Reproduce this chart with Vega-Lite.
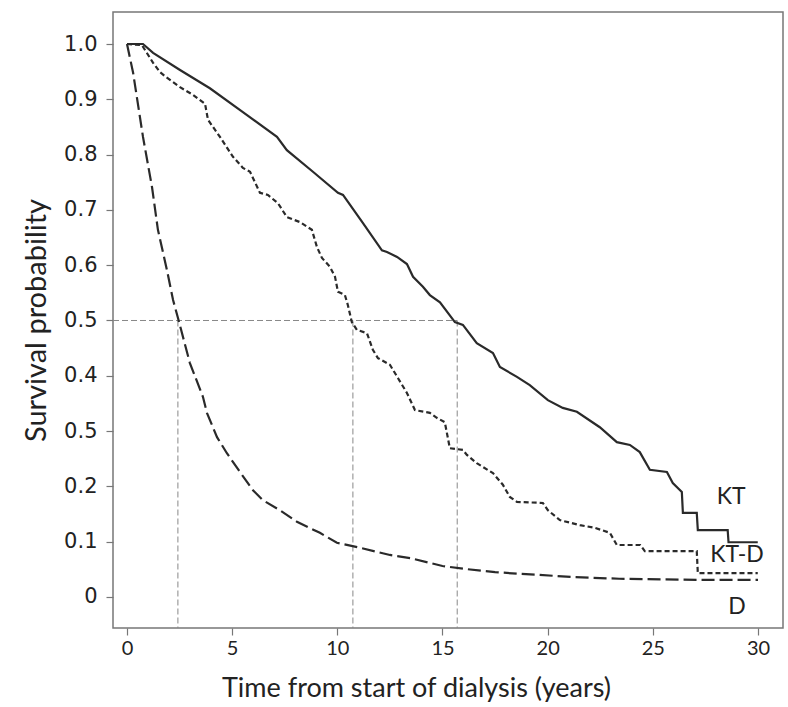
{
  "$schema": "https://vega.github.io/schema/vega-lite/v6.json",
  "autosize": "none",
  "width": 670,
  "height": 616,
  "padding": {"left": 113, "top": 12, "right": 5, "bottom": 79},
  "background": "white",
  "config": {
    "view": {"stroke": "#777", "strokeWidth": 1.5},
    "axis": {"grid": false, "domain": false, "tickColor": "#777", "tickWidth": 1.2, "labelColor": "#222", "titleColor": "#222", "titleFontWeight": "normal"}
  },
  "datasets": {
    "curves": [
      {"series": "KT", "t": 0, "s": 1.0},
      {"series": "KT", "t": 0.76, "s": 1.0},
      {"series": "KT", "t": 1.24, "s": 0.984},
      {"series": "KT", "t": 2.52, "s": 0.953},
      {"series": "KT", "t": 3.94, "s": 0.92},
      {"series": "KT", "t": 5.51, "s": 0.877},
      {"series": "KT", "t": 7.13, "s": 0.832},
      {"series": "KT", "t": 7.6, "s": 0.808},
      {"series": "KT", "t": 8.84, "s": 0.769},
      {"series": "KT", "t": 10.03, "s": 0.731},
      {"series": "KT", "t": 10.27, "s": 0.727},
      {"series": "KT", "t": 11.22, "s": 0.676},
      {"series": "KT", "t": 12.12, "s": 0.627},
      {"series": "KT", "t": 12.36, "s": 0.624},
      {"series": "KT", "t": 12.84, "s": 0.615},
      {"series": "KT", "t": 13.31, "s": 0.602},
      {"series": "KT", "t": 13.6, "s": 0.579},
      {"series": "KT", "t": 14.07, "s": 0.561},
      {"series": "KT", "t": 14.4, "s": 0.546},
      {"series": "KT", "t": 14.88, "s": 0.533},
      {"series": "KT", "t": 15.59, "s": 0.497},
      {"series": "KT", "t": 15.97, "s": 0.492},
      {"series": "KT", "t": 16.63, "s": 0.459},
      {"series": "KT", "t": 17.4, "s": 0.441},
      {"series": "KT", "t": 17.73, "s": 0.416},
      {"series": "KT", "t": 18.54, "s": 0.398},
      {"series": "KT", "t": 19.15, "s": 0.383},
      {"series": "KT", "t": 20.01, "s": 0.356},
      {"series": "KT", "t": 20.72, "s": 0.342},
      {"series": "KT", "t": 21.39, "s": 0.335},
      {"series": "KT", "t": 22.48, "s": 0.307},
      {"series": "KT", "t": 23.29, "s": 0.28},
      {"series": "KT", "t": 23.91, "s": 0.275},
      {"series": "KT", "t": 24.38, "s": 0.262},
      {"series": "KT", "t": 24.86, "s": 0.23},
      {"series": "KT", "t": 25.67, "s": 0.226},
      {"series": "KT", "t": 25.95, "s": 0.206},
      {"series": "KT", "t": 26.38, "s": 0.19},
      {"series": "KT", "t": 26.43, "s": 0.152},
      {"series": "KT", "t": 27.09, "s": 0.152},
      {"series": "KT", "t": 27.14, "s": 0.121},
      {"series": "KT", "t": 28.56, "s": 0.121},
      {"series": "KT", "t": 28.6, "s": 0.099},
      {"series": "KT", "t": 29.99, "s": 0.099},
      {"series": "KT-D", "t": 0, "s": 1.0},
      {"series": "KT-D", "t": 0.71, "s": 0.998},
      {"series": "KT-D", "t": 1.24, "s": 0.966},
      {"series": "KT-D", "t": 1.57, "s": 0.949},
      {"series": "KT-D", "t": 1.9, "s": 0.939},
      {"series": "KT-D", "t": 2.52, "s": 0.922},
      {"series": "KT-D", "t": 3.14, "s": 0.908},
      {"series": "KT-D", "t": 3.71, "s": 0.892},
      {"series": "KT-D", "t": 3.85, "s": 0.863},
      {"series": "KT-D", "t": 4.42, "s": 0.832},
      {"series": "KT-D", "t": 5.04, "s": 0.796},
      {"series": "KT-D", "t": 5.51, "s": 0.776},
      {"series": "KT-D", "t": 5.85, "s": 0.769},
      {"series": "KT-D", "t": 6.32, "s": 0.731},
      {"series": "KT-D", "t": 6.7, "s": 0.727},
      {"series": "KT-D", "t": 7.18, "s": 0.712},
      {"series": "KT-D", "t": 7.6, "s": 0.687},
      {"series": "KT-D", "t": 8.22, "s": 0.678},
      {"series": "KT-D", "t": 8.79, "s": 0.664},
      {"series": "KT-D", "t": 9.03, "s": 0.633},
      {"series": "KT-D", "t": 9.27, "s": 0.613},
      {"series": "KT-D", "t": 9.65, "s": 0.597},
      {"series": "KT-D", "t": 9.89, "s": 0.579},
      {"series": "KT-D", "t": 10.03, "s": 0.552},
      {"series": "KT-D", "t": 10.36, "s": 0.546},
      {"series": "KT-D", "t": 10.5, "s": 0.528},
      {"series": "KT-D", "t": 10.69, "s": 0.497},
      {"series": "KT-D", "t": 10.93, "s": 0.483},
      {"series": "KT-D", "t": 11.41, "s": 0.477},
      {"series": "KT-D", "t": 11.69, "s": 0.447},
      {"series": "KT-D", "t": 11.93, "s": 0.432},
      {"series": "KT-D", "t": 12.5, "s": 0.42},
      {"series": "KT-D", "t": 12.88, "s": 0.396},
      {"series": "KT-D", "t": 13.31, "s": 0.369},
      {"series": "KT-D", "t": 13.69, "s": 0.338},
      {"series": "KT-D", "t": 14.4, "s": 0.333},
      {"series": "KT-D", "t": 14.73, "s": 0.324},
      {"series": "KT-D", "t": 15.11, "s": 0.316},
      {"series": "KT-D", "t": 15.35, "s": 0.269},
      {"series": "KT-D", "t": 15.97, "s": 0.266},
      {"series": "KT-D", "t": 16.16, "s": 0.257},
      {"series": "KT-D", "t": 16.63, "s": 0.242},
      {"series": "KT-D", "t": 17.4, "s": 0.224},
      {"series": "KT-D", "t": 17.87, "s": 0.203},
      {"series": "KT-D", "t": 18.2, "s": 0.181},
      {"series": "KT-D", "t": 18.54, "s": 0.172},
      {"series": "KT-D", "t": 19.77, "s": 0.17},
      {"series": "KT-D", "t": 20.01, "s": 0.157},
      {"series": "KT-D", "t": 20.58, "s": 0.139},
      {"series": "KT-D", "t": 21.53, "s": 0.13},
      {"series": "KT-D", "t": 22.24, "s": 0.125},
      {"series": "KT-D", "t": 22.96, "s": 0.116},
      {"series": "KT-D", "t": 23.29, "s": 0.094},
      {"series": "KT-D", "t": 24.4, "s": 0.094},
      {"series": "KT-D", "t": 24.62, "s": 0.083},
      {"series": "KT-D", "t": 27.09, "s": 0.083},
      {"series": "KT-D", "t": 27.14, "s": 0.043},
      {"series": "KT-D", "t": 29.99, "s": 0.043},
      {"series": "D", "t": 0, "s": 1.0},
      {"series": "D", "t": 0.29, "s": 0.948},
      {"series": "D", "t": 0.76, "s": 0.832},
      {"series": "D", "t": 1.19, "s": 0.741},
      {"series": "D", "t": 1.47, "s": 0.664},
      {"series": "D", "t": 1.9, "s": 0.591},
      {"series": "D", "t": 2.19, "s": 0.537},
      {"series": "D", "t": 2.42, "s": 0.505},
      {"series": "D", "t": 2.99, "s": 0.423},
      {"series": "D", "t": 3.61, "s": 0.362},
      {"series": "D", "t": 3.8, "s": 0.333},
      {"series": "D", "t": 4.28, "s": 0.289},
      {"series": "D", "t": 4.75, "s": 0.26},
      {"series": "D", "t": 5.37, "s": 0.226},
      {"series": "D", "t": 5.99, "s": 0.193},
      {"series": "D", "t": 6.46, "s": 0.175},
      {"series": "D", "t": 7.27, "s": 0.157},
      {"series": "D", "t": 8.08, "s": 0.136},
      {"series": "D", "t": 9.17, "s": 0.116},
      {"series": "D", "t": 9.98, "s": 0.098},
      {"series": "D", "t": 11.07, "s": 0.089},
      {"series": "D", "t": 12.5, "s": 0.076},
      {"series": "D", "t": 13.5, "s": 0.07},
      {"series": "D", "t": 15.0, "s": 0.056},
      {"series": "D", "t": 16.0, "s": 0.051},
      {"series": "D", "t": 17.5, "s": 0.045},
      {"series": "D", "t": 18.6, "s": 0.042},
      {"series": "D", "t": 19.6, "s": 0.04},
      {"series": "D", "t": 21.2, "s": 0.036},
      {"series": "D", "t": 23.4, "s": 0.033},
      {"series": "D", "t": 27.1, "s": 0.031},
      {"series": "D", "t": 30.0, "s": 0.031}
    ],
    "refs": [
      {"t": -0.666, "t2": 15.7, "s": 0.5, "s2": 0.5},
      {"t": 2.42, "t2": 2.42, "s": 0.5, "s2": -0.0561},
      {"t": 10.74, "t2": 10.74, "s": 0.5, "s2": -0.0561},
      {"t": 15.7, "t2": 15.7, "s": 0.5, "s2": -0.0561}
    ],
    "labels": [
      {"label": "KT", "t": 28.72, "s": 0.181},
      {"label": "KT-D", "t": 29.0, "s": 0.076},
      {"label": "D", "t": 29.0, "s": -0.018}
    ]
  },
  "encoding": {
    "x": {
      "field": "t", "type": "quantitative",
      "scale": {"domain": [-0.666, 31.19], "nice": false, "zero": false},
      "axis": {
        "values": [0, 5, 10, 15, 20, 25, 30],
        "tickSize": 7, "labelPadding": 3,
        "labelFont": "Lato", "labelFontSize": 20,
        "title": "Time from start of dialysis (years)",
        "titleFont": "Lato", "titleFontSize": 27, "titlePadding": 17,
        "titleX": 303, "titleAlign": "center"
      }
    },
    "y": {
      "field": "s", "type": "quantitative",
      "scale": {"domain": [-0.0561, 1.0579], "nice": false, "zero": false},
      "axis": {
        "values": [0, 0.1, 0.2, 0.3, 0.4, 0.5, 0.6, 0.7, 0.8, 0.9, 1.0],
        "labelExpr": "datum.value == 0 ? '0' : (abs(datum.value - 0.3) < 0.001 ? '0.5' : format(datum.value, '.1f'))",
        "tickSize": 7, "labelPadding": 9,
        "labelFont": "DejaVu Sans", "labelFontSize": 21,
        "title": "Survival probability",
        "titleFont": "Lato", "titleFontSize": 29, "titlePadding": 12
      }
    }
  },
  "layer": [
    {
      "data": {"name": "refs"},
      "mark": {"type": "rule", "color": "#888", "strokeWidth": 1, "strokeDash": [6, 3]},
      "encoding": {
        "x2": {"field": "t2"},
        "y2": {"field": "s2"}
      }
    },
    {
      "data": {"name": "curves"},
      "transform": [{"filter": "datum.series == 'KT'"}],
      "mark": {"type": "line", "color": "#2a2a2a", "strokeWidth": 2.2, "interpolate": "linear"}
    },
    {
      "data": {"name": "curves"},
      "transform": [{"filter": "datum.series == 'KT-D'"}],
      "mark": {"type": "line", "color": "#2a2a2a", "strokeWidth": 2.2, "strokeDash": [5, 3], "interpolate": "linear"}
    },
    {
      "data": {"name": "curves"},
      "transform": [{"filter": "datum.series == 'D'"}],
      "mark": {"type": "line", "color": "#2a2a2a", "strokeWidth": 2.2, "strokeDash": [13, 5], "interpolate": "linear"}
    },
    {
      "data": {"name": "labels"},
      "mark": {"type": "text", "font": "Lato", "fontSize": 23, "color": "#222", "align": "center", "baseline": "middle"},
      "encoding": {"text": {"field": "label"}}
    }
  ]
}
